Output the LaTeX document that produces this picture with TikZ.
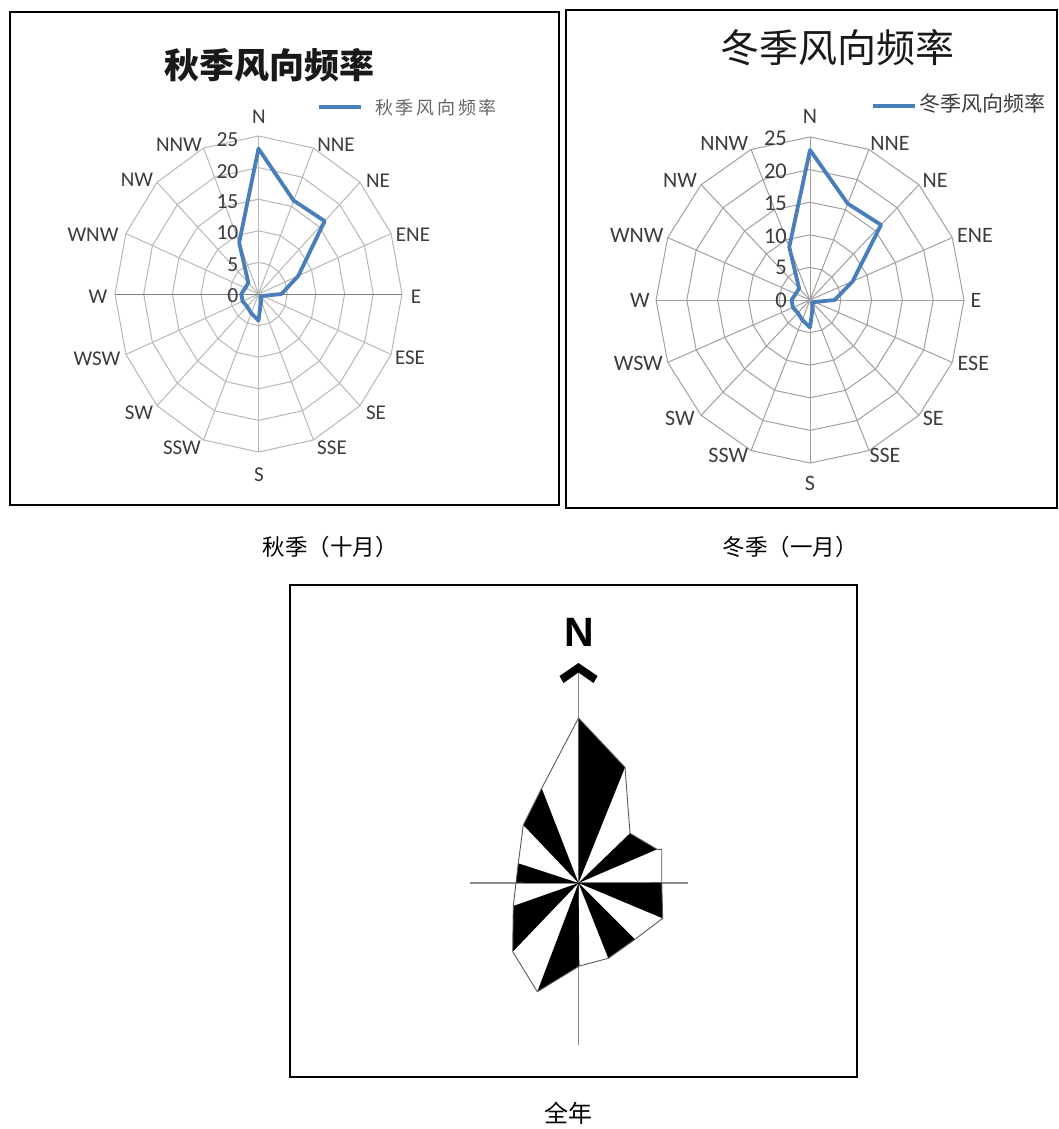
\documentclass[tikz,border=0pt]{standalone}
\usepackage{fontspec}
\setmainfont{Carlito}
\newfontfamily\cjk{Noto Sans CJK SC}
\newfontfamily\sansb{Liberation Sans}
\definecolor{excelblue}{HTML}{4A7EBB}
\definecolor{gridL}{HTML}{B8B8B8}
\definecolor{gridR}{HTML}{A0A0A0}
\definecolor{labgray}{HTML}{3C3C3C}
\tikzset{
  panel/.style={draw=black, line width=1.6pt},
  gridLs/.style={draw=gridL, line width=1pt},
  gridRs/.style={draw=gridR, line width=1pt},
  series/.style={draw=excelblue, line width=3.8pt, line join=round},
  dirL/.style={text=labgray, inner sep=0pt, font=\fontsize{21}{21}\selectfont},
  dirR/.style={text=labgray, inner sep=0pt, font=\fontsize{22}{22}\selectfont},
  numL/.style={text=labgray, inner sep=0pt, anchor=east, font=\fontsize{21.5}{21.5}\selectfont},
  numR/.style={text=labgray, inner sep=0pt, anchor=east, font=\fontsize{22.5}{22.5}\selectfont},
  captionst/.style={inner sep=0pt, font=\cjk\fontsize{22.5}{22.5}\selectfont},
  roseline/.style={draw=black!65, line width=0.9pt, line join=round},
  axisline/.style={draw=black!45, line width=1.5pt},
  legline/.style={draw=excelblue, line width=4pt},
}
% #1 cx, #2 cy, #3 rx, #4 ry, #5 style
\newcommand{\radargrid}[5]{%
  \foreach \k in {1,...,5}{
    \draw[#5] ({#1},{#2-#4*\k/5}) \foreach \a in {22.5,45,...,337.5}{ -- ({#1+#3*\k/5*sin(\a)},{#2-#4*\k/5*cos(\a)})} -- cycle;
  }
  \foreach \a in {0,22.5,...,337.5}{
    \draw[#5] (#1,#2) -- ({#1+#3*sin(\a)},{#2-#4*cos(\a)});
  }
}
\newcommand{\radarseries}[4]{%
  \draw[series] ({#1},{#2-#4*23/25}) \foreach \v [count=\i] in {16,16.3,7.5,4,0.8,0.5,1.2,4.2,3.3,2.8,3,3,2.5,2.5,8.8}{ -- ({#1+#3*\v/25*sin(22.5*\i)},{#2-#4*\v/25*cos(22.5*\i)})} -- cycle;
}
\begin{document}
\begin{tikzpicture}[x=1pt,y=-1pt]
\useasboundingbox (0,0) rectangle (1059,1129);
\fill[white] (0,0) rectangle (1059,1129);

% ---------- panels ----------
\draw[panel] (10,12) rectangle (559,505);
\draw[panel] (566,10) rectangle (1057,508);
\draw[panel] (290,585) rectangle (857,1077);

% ---------- left radar (autumn) ----------
\radargrid{258.5}{294}{143.5}{158}{gridLs}
\draw[draw=black!50, line width=1pt] (115,294) -- (402,294);
\radarseries{258.5}{294}{143.5}{158}
\foreach \t/\x/\y in {N/259/117, NNE/336/145, NE/378/181, ENE/413/235, E/416/297, ESE/410/358, SE/376/413, SSE/332/448, S/259/475, SSW/182/448, SW/139/413, WSW/97/359, W/98/297, WNW/93/235, NW/137/180, NNW/179/145}
  \node[dirL] (L\t) at (\x,\y) {\t};
\foreach \t/\y in {0/295.7, 5/265, 10/233, 15/201.7, 20/171.7, 25/140}
  \node[numL] (Ln\t) at (238.5,\y) {\t};
\node[inner sep=0pt, text=black!90, font=\cjk\bfseries\fontsize{35}{35}\selectfont] (titleL) at (269.5,65) {秋季风向频率};
\coordinate (legLa) at (319,107);
\coordinate (legLb) at (361,107);
\draw[legline] (legLa) -- (legLb);
\node[anchor=west, inner sep=0pt, text=black!60, font=\cjk\fontsize{18}{18}\selectfont\addfontfeature{LetterSpace=15}] (legL) at (375,108) {秋季风向频率};

% ---------- right radar (winter) ----------
\radargrid{810}{300}{154}{163}{gridRs}
\radarseries{810}{300}{154}{163}
\foreach \t/\x/\y in {N/810/116, NNE/890/143.3, NE/935/180, ENE/975/235, E/976/300, ESE/973.3/363.3, SE/933.3/418.3, SSE/885/455, S/810/483.3, SSW/728.3/455, SW/680/418.3, WSW/638.3/363.3, W/640/300, WNW/636.7/235, NW/680/180, NNW/724.3/143.3}
  \node[dirR] (R\t) at (\x,\y) {\t};
\foreach \t/\y in {0/300.7, 5/267.3, 10/236, 15/203.3, 20/171.7, 25/138.3}
  \node[numR] (Rn\t) at (787,\y) {\t};
\node[inner sep=0pt, text=black!90, font=\cjk\fontsize{39}{39}\selectfont] (titleR) at (837.5,48) {冬季风向频率};
\coordinate (legRa) at (873,106);
\coordinate (legRb) at (915,106);
\draw[legline] (legRa) -- (legRb);
\node[anchor=west, inner sep=0pt, text=labgray, font=\cjk\fontsize{21}{21}\selectfont] (legR) at (919,104) {冬季风向频率};

% ---------- captions ----------
\node[captionst] (capL) at (330,547) {秋季（十月）};
\node[captionst] (capR) at (790,547) {冬季（一月）};
\node[inner sep=0pt, font=\cjk\fontsize{24}{24}\selectfont] (capA) at (568,1113) {全年};

% ---------- annual wind rose ----------
\coordinate (rc) at (578.5,883);
\coordinate (rN) at (578.5,718);
\coordinate (rNNE) at (625,767.3);
\coordinate (rNE) at (630,833.3);
\coordinate (rENE) at (657,849.3);
\coordinate (rENEb) at (661.7,849.3);
\coordinate (rE) at (661.7,882.7);
\coordinate (rESE) at (662.7,918.3);
\coordinate (rSE) at (635,939.3);
\coordinate (rSSE) at (608.3,958.3);
\coordinate (rS) at (579.3,966);
\coordinate (rSSW) at (537.3,991.7);
\coordinate (rSW) at (512.7,951.7);
\coordinate (rWSW) at (513.3,906);
\coordinate (rW) at (516,882.7);
\coordinate (rWNW) at (518.3,863.3);
\coordinate (rNW) at (523.3,825);
\coordinate (rNNW) at (541.7,788.3);
\coordinate (axL) at (470,883);
\coordinate (axR) at (688,883);
\coordinate (axT) at (578.5,672);
\coordinate (axB) at (578.5,1045);
\draw[axisline] (axL) -- (axR);
\draw[axisline] (axT) -- (axB);
\foreach \p/\q in {N/NNE, NE/ENE, E/ESE, SE/SSE, S/SSW, SW/WSW, W/WNW, NW/NNW}
  \fill[black] (rc) -- (r\p) -- (r\q) -- cycle;
\draw[roseline] (rN) -- (rNNE) -- (rNE) -- (rENE) -- (rENEb) -- (rE) -- (rESE) -- (rSE) -- (rSSE) -- (rS) -- (rSSW) -- (rSW) -- (rWSW) -- (rW) -- (rWNW) -- (rNW) -- (rNNW) -- cycle;
\fill[black] (578.5,663) -- (597.5,676) -- (593.5,683) -- (578.5,672.5) -- (563.5,683) -- (559.5,676) -- cycle;
\node[inner sep=0pt, font=\sansb\bfseries\fontsize{41}{41}\selectfont] (northN) at (579,632) {N};
\end{tikzpicture}
\end{document}
